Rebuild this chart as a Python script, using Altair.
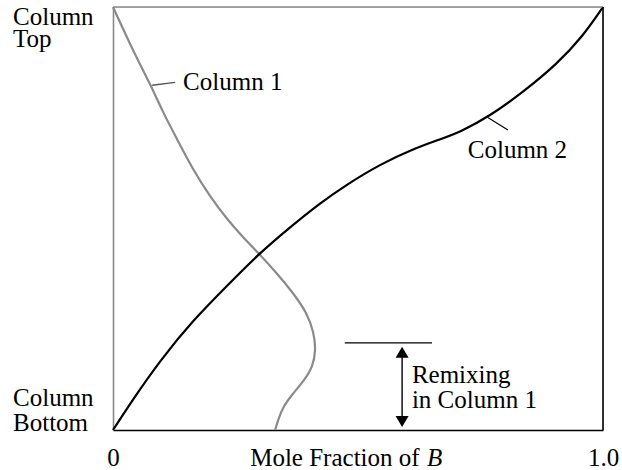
import altair as alt
import pandas as pd

# Composition profiles along the two columns (mole fraction of B vs. height)
col1_x = [0.0, 0.049, 0.076, 0.102, 0.131, 0.163, 0.198, 0.233, 0.265, 0.296, 0.335,
          0.367, 0.396, 0.410, 0.414, 0.408, 0.390, 0.365, 0.347, 0.337, 0.331]
col1_y = [1.0, 0.877, 0.818, 0.751, 0.687, 0.616, 0.552, 0.498, 0.456, 0.419, 0.370,
          0.325, 0.277, 0.230, 0.190, 0.150, 0.117, 0.083, 0.055, 0.024, 0.0]

col2_x = [0.0, 0.041, 0.096, 0.163, 0.233, 0.296, 0.361, 0.422, 0.478, 0.545, 0.612,
          0.667, 0.708, 0.769, 0.837, 0.906, 0.959, 1.0]
col2_y = [0.0, 0.073, 0.164, 0.259, 0.341, 0.415, 0.479, 0.536, 0.581, 0.628, 0.664,
          0.687, 0.704, 0.742, 0.799, 0.865, 0.931, 1.0]

# Tick labels on the composition axis
tick_values = [0, 1]
tick_labels = ["0", "1.0"]

# Text annotations: label, anchor x, baseline y, style
label_text = ["Column", "Top", "Column", "Bottom", "Column 1", "Column 2",
              "Remixing", "in Column 1", "Mole Fraction of", "B"]
label_x = [-0.204, -0.204, -0.204, -0.204, 0.143, 0.724, 0.610, 0.610, 0.280, 0.641]
label_y = [0.957, 0.905, 0.057, -0.002, 0.803, 0.642, 0.111, 0.052, -0.085, -0.085]
label_style = ["normal"] * 9 + ["italic"]

# Frame edges (top, right), leader lines and the remixing marker
seg_x = [0.0, 1.0, 0.080, 0.765, 0.473, 0.590]
seg_x2 = [1.0, 1.0, 0.127, 0.806, 0.651, 0.590]
seg_y = [1.0, 0.0, 0.815, 0.739, 0.206, 0.184]
seg_y2 = [1.0, 1.0, 0.822, 0.709, 0.206, 0.020]
seg_color = ["#8a8a8a", "black", "#555555", "black", "black", "black"]
seg_width = [1.6, 1.6, 1.3, 1.2, 1.2, 1.4]

# Arrowheads of the remixing span
head_x = [0.590, 0.590]
head_y = [0.184, 0.020]
head_shape = ["M0,-0.85L1,0.85L-1,0.85Z", "M0,0.85L1,-0.85L-1,-0.85Z"]

GRAY = "#8a8a8a"
FONT = "Liberation Serif"
FS = 25

xs = alt.Scale(domain=[0, 1], nice=False, zero=False)
ys = alt.Scale(domain=[0, 1], nice=False, zero=False)

df1 = pd.DataFrame({"x": col1_x, "y": col1_y, "i": range(len(col1_x))})
df2 = pd.DataFrame({"x": col2_x, "y": col2_y, "i": range(len(col2_x))})
dlab = pd.DataFrame({"t": label_text, "x": label_x, "y": label_y, "s": label_style})
dseg = pd.DataFrame({"x": seg_x, "x2": seg_x2, "y": seg_y, "y2": seg_y2,
                     "c": seg_color, "w": seg_width})
dhead = pd.DataFrame({"x": head_x, "y": head_y, "shape": head_shape})

x_axis = alt.Axis(
    values=tick_values,
    labelExpr="datum.value == 0 ? '%s' : '%s'" % tuple(tick_labels),
    ticks=False, grid=False, title=None,
    domainColor="black", domainWidth=1.6, domainOpacity=1,
    labelFont=FONT, labelFontSize=FS, labelColor="black",
    labelBaseline="alphabetic", labelPadding=35,
    labelFlush=False, labelOverlap=False,
)
y_axis = alt.Axis(labels=False, ticks=False, grid=False, title=None,
                  domainColor=GRAY, domainWidth=1.6, domainOpacity=1)


def X(field="x:Q"):
    return alt.X(field, scale=xs, axis=x_axis)


def Y(field="y:Q"):
    return alt.Y(field, scale=ys, axis=y_axis)


column1 = alt.Chart(df1).mark_line(color=GRAY, strokeWidth=2.2, interpolate="basis").encode(
    x=X(), y=Y(), order="i:Q",
)

column2 = alt.Chart(df2).mark_line(color="black", strokeWidth=2.2, interpolate="basis").encode(
    x=X(), y=Y(), order="i:Q",
)

segments = alt.Chart(dseg).mark_rule().encode(
    x=X(), x2="x2:Q", y=Y(), y2="y2:Q",
    color=alt.Color("c:N", scale=None),
    strokeWidth=alt.StrokeWidth("w:Q", scale=None),
)

heads = alt.Chart(dhead).mark_point(filled=True, color="black", size=169, opacity=1).encode(
    x=X(), y=Y(),
    shape=alt.Shape("shape:N", scale=None),
)


def text_layer(style):
    return alt.Chart(dlab).transform_filter(
        alt.datum.s == style
    ).mark_text(
        align="left", baseline="alphabetic", font=FONT, fontSize=FS,
        color="black", fontStyle=style,
    ).encode(x=X(), y=Y(), text="t:N")


chart = alt.layer(
    column1, column2, segments, heads,
    text_layer("normal"), text_layer("italic"),
).properties(
    width=490, height=423,
    autosize=alt.AutoSizeParams(type="none"),
    padding={"left": 113, "top": 7, "right": 19, "bottom": 40},
).configure_view(stroke=None).configure(background="white")

chart.save("out.html", embed_options={"renderer": "svg", "actions": False})
